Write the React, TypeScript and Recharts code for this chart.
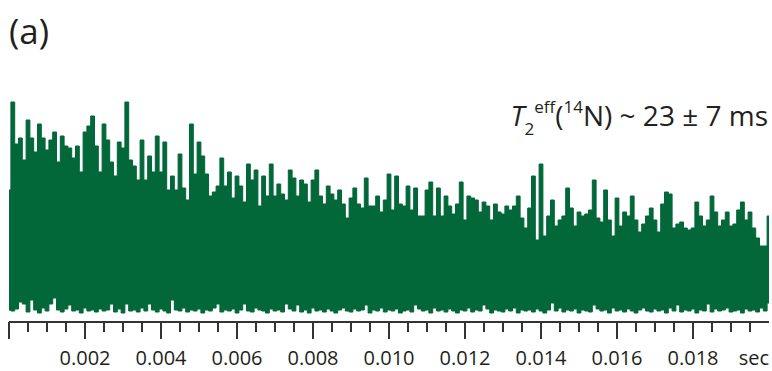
import React from 'react'
import { Area, ComposedChart, XAxis, YAxis } from 'recharts'

// sampling interval of the FID trace (sec)
const DWELL = 0.0001

// upper envelope of the signal (a.u.), one value per sample
const upper = [
  66, 110, 89, 92, 81, 101, 92, 85, 99, 92,
  86, 91, 95, 80, 93, 88, 87, 82, 88, 75,
  95, 98, 103, 88, 75, 99, 91, 80, 73, 90,
  87, 110, 81, 78, 71, 91, 71, 83, 75, 93,
  75, 90, 66, 73, 66, 84, 67, 61, 99, 74,
  90, 83, 74, 63, 65, 68, 82, 68, 75, 62,
  73, 68, 60, 79, 71, 76, 58, 73, 63, 79,
  63, 69, 64, 61, 76, 72, 63, 71, 69, 60,
  71, 76, 63, 59, 68, 64, 61, 66, 59, 52,
  62, 67, 59, 57, 72, 58, 58, 63, 55, 61,
  74, 56, 73, 59, 58, 68, 56, 67, 53, 53,
  66, 70, 53, 67, 53, 63, 58, 54, 59, 70,
  51, 63, 62, 61, 55, 60, 58, 51, 59, 55,
  54, 58, 56, 58, 63, 52, 47, 57, 73, 41,
  79, 43, 53, 61, 48, 51, 53, 67, 57, 48,
  55, 53, 54, 56, 71, 52, 50, 66, 51, 43,
  62, 48, 55, 53, 63, 51, 45, 49, 53, 57,
  51, 45, 59, 65, 64, 47, 49, 50, 47, 46,
  47, 60, 53, 48, 51, 63, 55, 48, 51, 55,
  48, 49, 56, 60, 51, 55, 47, 42, 38, 38,
  53,
]

// lower envelope of the signal (a.u.)
const lower = [
  6, 5.5, 6.5, 10, 9, 5, 11, 6, 4.5, 7,
  5.5, 9, 12, 6, 5, 6.5, 8.5, 5.5, 6, 4.5,
  7, 5.5, 6, 5, 6.5, 5.5, 6, 9, 5, 6.5,
  4.5, 9, 5.5, 6, 5, 7, 5.5, 9, 6, 5,
  6.5, 5.5, 4.5, 11, 6, 5.5, 7, 5, 6, 5.5,
  6.5, 4.5, 6, 5.5, 7, 9, 5, 6, 5.5, 6.5,
  4.5, 6, 9, 5.5, 5, 7, 6, 5.5, 4.5, 6.5,
  5.5, 6, 5, 9, 6.5, 5.5, 8.5, 5, 6, 4.5,
  7, 5.5, 6, 5, 6.5, 5.5, 4.5, 6, 7, 5.5,
  5, 6.5, 5.5, 6, 8.5, 4.5, 6, 5.5, 7, 5,
  6, 5.5, 6.5, 4.5, 5.5, 6, 5, 8.5, 6.5, 5.5,
  6, 4.5, 7, 5.5, 6, 5, 6.5, 5.5, 4.5, 6,
  5.5, 7, 5, 6, 5.5, 8.5, 6.5, 4.5, 6, 5.5,
  5, 6.5, 5.5, 7, 4.5, 6, 5.5, 6, 5, 6.5,
  5.5, 4.5, 6, 9.5, 5.5, 7, 5, 6, 5.5, 6.5,
  4.5, 6, 5.5, 5, 8.5, 6.5, 5.5, 6, 4.5, 7,
  5.5, 6, 5, 6.5, 5.5, 4.5, 6, 7, 5.5, 5,
  6.5, 5.5, 6, 4.5, 7, 5.5, 8.5, 5, 6, 5.5,
  6.5, 4.5, 6, 5.5, 9, 5, 6.5, 5.5, 6, 7,
  5, 5.5, 6, 4.5, 6.5, 5.5, 6, 5, 7, 5.5,
  9.5,
]

const axisTicks = [
  0, 0.0005, 0.001, 0.0015, 0.002, 0.0025, 0.003, 0.0035, 0.004, 0.0045,
  0.005, 0.0055, 0.006, 0.0065, 0.007, 0.0075, 0.008, 0.0085, 0.009, 0.0095,
  0.01, 0.0105, 0.011, 0.0115, 0.012, 0.0125, 0.013, 0.0135, 0.014, 0.0145,
  0.015, 0.0155, 0.016, 0.0165, 0.017, 0.0175, 0.018, 0.0185, 0.019, 0.0195,
  0.02,
]
const majorTicks = [0, 0.002, 0.004, 0.006, 0.008, 0.01, 0.012, 0.014, 0.016, 0.018]
const tickLabels = ['', '0.002', '0.004', '0.006', '0.008', '0.010', '0.012', '0.014', '0.016', '0.018']
const unitLabel = 'sec'

const GREEN = '#026739'
const INK = '#231f20'
const FONT = '"Open Sans", "Noto Sans", sans-serif'

const data = upper.map((hi, i) => ({ t: +(i * DWELL).toFixed(5), range: [lower[i], hi] }))

const AxisTick = (props: any) => {
  const { x, y, payload } = props
  const v = payload.value
  if (Math.abs(v - 0.02) < 1e-9) {
    return (
      <text x={x} y={y + 43} textAnchor="end" fontFamily={FONT} fontSize={20} fill={INK}>
        {unitLabel}
      </text>
    )
  }
  const mi = majorTicks.findIndex((m) => Math.abs(m - v) < 1e-9)
  const major = mi >= 0
  return (
    <g>
      <line x1={x} x2={x} y1={y} y2={y + (major ? 17 : 10)} stroke="#333" strokeWidth={2} />
      {major && tickLabels[mi] && (
        <text x={x} y={y + 43} textAnchor="middle" fontFamily={FONT} fontSize={20} fill={INK}>
          {tickLabels[mi]}
        </text>
      )}
    </g>
  )
}

export default function App() {
  return (
    <div style={{ position: 'absolute', left: 0, top: 0, width: 772, height: 371 }}>
      <ComposedChart
        width={772}
        height={371}
        data={data}
        margin={{ top: 82, right: 3, left: 9, bottom: 0 }}
      >
        <XAxis
          dataKey="t"
          type="number"
          domain={[0, 0.02]}
          ticks={axisTicks}
          interval={0}
          height={49}
          tickSize={0}
          tickMargin={0}
          tickLine={false}
          axisLine={{ stroke: '#333', strokeWidth: 2 }}
          tick={<AxisTick />}
        />
        <YAxis hide domain={[0, 120]} />
        <Area
          type="step"
          dataKey="range"
          stroke={GREEN}
          strokeWidth={1}
          fill={GREEN}
          fillOpacity={1}
          dot={false}
          activeDot={false}
          isAnimationActive={false}
        />
      </ComposedChart>
      <svg
        width={772}
        height={371}
        style={{ position: 'absolute', left: 0, top: 0, pointerEvents: 'none' }}
      >
        <text x={9} y={44} fontFamily={FONT} fontSize={35} fill={INK}>
          (a)
        </text>
        <text x={768} y={126} textAnchor="end" fontFamily={FONT} fontSize={28} fill={INK}>
          <tspan fontStyle="italic">T</tspan>
          <tspan fontSize={17} dy={9}>2</tspan>
          <tspan fontSize={17} dy={-22}>eff</tspan>
          <tspan dy={13}>(</tspan>
          <tspan fontSize={17} dy={-13}>14</tspan>
          <tspan dy={13}>N) ~ 23 ± 7 ms</tspan>
        </text>
      </svg>
    </div>
  )
}
